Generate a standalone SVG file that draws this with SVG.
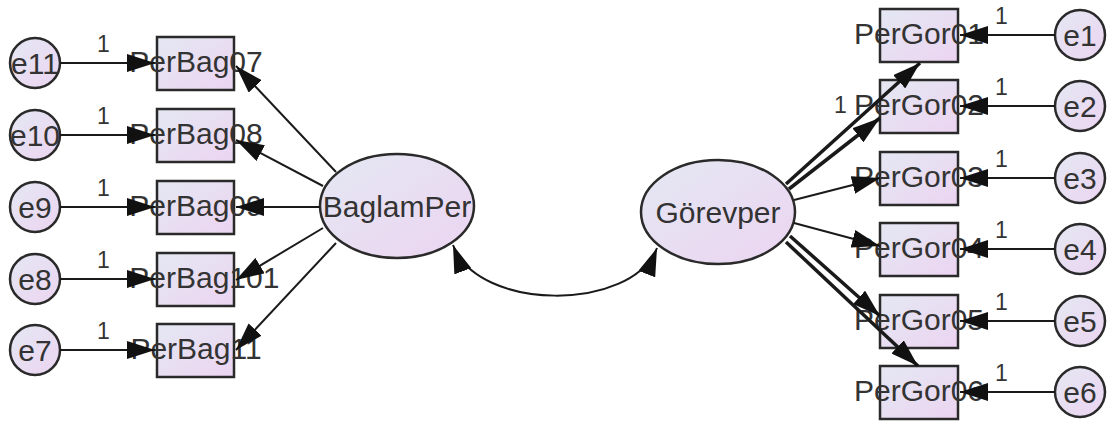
<svg xmlns="http://www.w3.org/2000/svg" width="1107" height="425" viewBox="0 0 1107 425">
  <defs>
    <linearGradient id="fillGrad" x1="0" y1="0" x2="1" y2="1">
      <stop offset="0" stop-color="#e4e8f3"/>
      <stop offset="1" stop-color="#ecd4f1"/>
    </linearGradient>
    <marker id="ah" viewBox="0 0 28 18" refX="28" refY="9" markerWidth="28" markerHeight="18" markerUnits="userSpaceOnUse" orient="auto-start-reverse">
      <path d="M0,0 L28,9 L0,18 z" fill="#111"/>
    </marker>
    <style>
      .box { fill: url(#fillGrad); stroke: #2a2a2a; stroke-width: 2.5; }
      .lat { fill: url(#fillGrad); stroke: #2a2a2a; stroke-width: 2.5; }
      .err { fill: url(#fillGrad); stroke: #2a2a2a; stroke-width: 2.5; }
      .lbl { font-family: "Liberation Sans", Arial, sans-serif; font-size: 30px; fill: #333; text-anchor: middle; }
      .w { font-family: "Liberation Sans", Arial, sans-serif; font-size: 23px; fill: #333; }
      .ln { fill: none; stroke: #1a1a1a; stroke-width: 2; marker-end: url(#ah); }
      .thick { stroke-width: 3.5; }
      .cov { fill: none; stroke: #1a1a1a; stroke-width: 2; marker-start: url(#ah); marker-end: url(#ah); }
    </style>
  </defs>
  <rect width="1107" height="425" fill="#fff"/>

  <!-- latent variables -->
  <g id="BaglamPer"><ellipse class="lat" cx="397" cy="206" rx="77" ry="52"/><text class="lbl" x="397" y="217">BaglamPer</text></g>
  <g id="Gorevper"><ellipse class="lat" cx="718" cy="212" rx="77" ry="52"/><text class="lbl" x="718" y="223">Görevper</text></g>

  <!-- BaglamPer indicators -->
  <g id="PerBag07"><rect class="box" x="157" y="37" width="77" height="53"/><text class="lbl" x="196" y="72">PerBag07</text></g>
  <g id="PerBag08"><rect class="box" x="157" y="109" width="77" height="53"/><text class="lbl" x="196" y="144">PerBag08</text></g>
  <g id="PerBag09"><rect class="box" x="157" y="181" width="77" height="53"/><text class="lbl" x="196" y="216">PerBag09</text></g>
  <g id="PerBag10"><rect class="box" x="157" y="253" width="77" height="53"/><text class="lbl" x="196" y="288">PerBag10</text></g>
  <g id="PerBag11"><rect class="box" x="157" y="324" width="77" height="53"/><text class="lbl" x="196" y="359">PerBag11</text></g>

  <!-- Görevper indicators -->
  <g id="PerGor01"><rect class="box" x="880" y="9" width="78" height="53"/><text class="lbl" x="919" y="44">PerGor01</text></g>
  <g id="PerGor02"><rect class="box" x="880" y="80" width="78" height="53"/><text class="lbl" x="919" y="115">PerGor02</text></g>
  <g id="PerGor03"><rect class="box" x="880" y="152" width="78" height="53"/><text class="lbl" x="919" y="187">PerGor03</text></g>
  <g id="PerGor04"><rect class="box" x="880" y="223" width="78" height="53"/><text class="lbl" x="919" y="258">PerGor04</text></g>
  <g id="PerGor05"><rect class="box" x="880" y="295" width="78" height="53"/><text class="lbl" x="919" y="330">PerGor05</text></g>
  <g id="PerGor06"><rect class="box" x="880" y="366" width="78" height="53"/><text class="lbl" x="919" y="401">PerGor06</text></g>

  <!-- error terms -->
  <g id="e11"><circle class="err" cx="35" cy="63" r="25"/><text class="lbl" x="35" y="74">e11</text></g>
  <g id="e10"><circle class="err" cx="35" cy="135" r="25"/><text class="lbl" x="35" y="146">e10</text></g>
  <g id="e9"><circle class="err" cx="35" cy="207" r="25"/><text class="lbl" x="35" y="218">e9</text></g>
  <g id="e8"><circle class="err" cx="35" cy="279" r="25"/><text class="lbl" x="35" y="290">e8</text></g>
  <g id="e7"><circle class="err" cx="35" cy="350" r="25"/><text class="lbl" x="35" y="361">e7</text></g>
  <g id="e1"><circle class="err" cx="1080" cy="35" r="25"/><text class="lbl" x="1080" y="46">e1</text></g>
  <g id="e2"><circle class="err" cx="1080" cy="106" r="25"/><text class="lbl" x="1080" y="117">e2</text></g>
  <g id="e3"><circle class="err" cx="1080" cy="178" r="25"/><text class="lbl" x="1080" y="189">e3</text></g>
  <g id="e4"><circle class="err" cx="1080" cy="249" r="25"/><text class="lbl" x="1080" y="260">e4</text></g>
  <g id="e5"><circle class="err" cx="1080" cy="321" r="25"/><text class="lbl" x="1080" y="332">e5</text></g>
  <g id="e6"><circle class="err" cx="1080" cy="392" r="25"/><text class="lbl" x="1080" y="403">e6</text></g>

  <!-- paths -->
  <g id="connectors">
    <!-- errors to BaglamPer indicators -->
    <line class="ln" x1="60" y1="63" x2="155" y2="63"/>
    <line class="ln" x1="60" y1="135" x2="155" y2="135"/>
    <line class="ln" x1="60" y1="207" x2="155" y2="207"/>
    <line class="ln" x1="60" y1="279" x2="155" y2="279"/>
    <line class="ln" x1="60" y1="350" x2="155" y2="350"/>
    <!-- BaglamPer loadings -->
    <line class="ln" x1="336" y1="172" x2="236" y2="66"/>
    <line class="ln" x1="323" y1="186" x2="236" y2="140"/>
    <line class="ln" x1="320" y1="207" x2="236" y2="207"/>
    <line class="ln" x1="323" y1="228" x2="236" y2="280"/>
    <line class="ln" x1="336" y1="243" x2="236" y2="350"/>
    <!-- Görevper loadings -->
    <line class="ln thick" x1="786" y1="184" x2="920" y2="63"/>
    <line class="ln thick" x1="789" y1="189" x2="880" y2="118"/>
    <line class="ln" x1="794" y1="200" x2="880" y2="178"/>
    <line class="ln" x1="794" y1="223" x2="880" y2="246"/>
    <line class="ln thick" x1="790" y1="236" x2="880" y2="316"/>
    <line class="ln thick" x1="786" y1="242" x2="918" y2="366"/>
    <!-- errors to Görevper indicators -->
    <line class="ln" x1="1055" y1="35" x2="960" y2="35"/>
    <line class="ln" x1="1055" y1="106" x2="960" y2="106"/>
    <line class="ln" x1="1055" y1="178" x2="960" y2="178"/>
    <line class="ln" x1="1055" y1="249" x2="960" y2="249"/>
    <line class="ln" x1="1055" y1="321" x2="960" y2="321"/>
    <line class="ln" x1="1055" y1="392" x2="960" y2="392"/>
    <!-- covariance -->
    <path class="cov" d="M453,245 C478,312 632,312 657,248"/>
  </g>

  <!-- fixed weights -->
  <g id="weights">
    <text class="w" x="97" y="52">1</text>
    <text class="w" x="97" y="124">1</text>
    <text class="w" x="97" y="196">1</text>
    <text class="w" x="97" y="268">1</text>
    <text class="w" x="97" y="339">1</text>
    <text class="lbl" x="271" y="288">1</text>
    <text class="w" x="995" y="24">1</text>
    <text class="w" x="995" y="95">1</text>
    <text class="w" x="995" y="167">1</text>
    <text class="w" x="995" y="238">1</text>
    <text class="w" x="995" y="310">1</text>
    <text class="w" x="995" y="381">1</text>
    <text class="w" x="834" y="113">1</text>
  </g>
</svg>
